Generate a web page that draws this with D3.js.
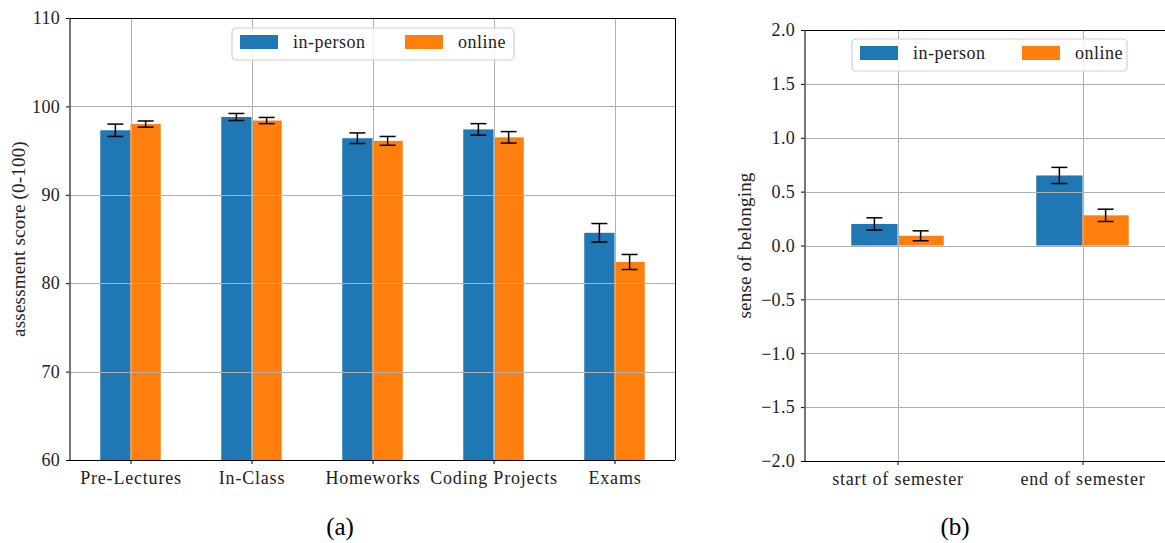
<!DOCTYPE html>
<html>
<head>
<meta charset="utf-8">
<script src="https://cdn.jsdelivr.net/npm/d3@7"></script>
<style>
  body { margin: 0; background: #fff; }
  svg text { font-family: "Times New Roman", "Liberation Serif", Times, "DejaVu Serif", serif; fill: #222; }
</style>
</head>
<body>
<svg id="chart" width="1165" height="543"></svg>
<script>
// Panel (a): assessment scores
const categories = ['Pre-Lectures', 'In-Class', 'Homeworks', 'Coding Projects', 'Exams'];
const scoreInPerson = [97.3, 98.8, 96.4, 97.4, 85.7];
const scoreInPersonErr = [0.7, 0.4, 0.6, 0.65, 1.05];
const scoreOnline = [98.0, 98.4, 96.1, 96.5, 82.4];
const scoreOnlineErr = [0.35, 0.35, 0.5, 0.65, 0.85];
const scoreTicks = [60, 70, 80, 90, 100, 110];

// Panel (b): sense of belonging
const periods = ['start of semester', 'end of semester'];
const belongInPerson = [0.20, 0.65];
const belongInPersonErr = [0.057, 0.075];
const belongOnline = [0.09, 0.28];
const belongOnlineErr = [0.046, 0.057];
const belongTicks = [-2.0, -1.5, -1.0, -0.5, 0.0, 0.5, 1.0, 1.5, 2.0];

const seriesNames = ['in-person', 'online'];
const colors = ['#1f77b4', '#ff7f0e'];

const svg = d3.select('#chart');

function drawPanel(opts) {
  const { left, right, top, bottom } = opts;
  const g = svg.append('g');

  const x = d3.scalePoint().domain(opts.cats).range([left, right]).padding(0.5);
  const y = d3.scaleLinear().domain(opts.yDomain).range([bottom, top]);
  const bw = x.step() * 0.25;
  const base = opts.yDomain[0] < 0 ? 0 : opts.yDomain[0];

  // Bars
  const series = [
    { vals: opts.a, errs: opts.aErr, off: -bw, color: colors[0] },
    { vals: opts.b, errs: opts.bErr, off: 0, color: colors[1] }
  ];
  series.forEach(s => {
    g.selectAll(null)
      .data(opts.cats)
      .enter()
      .append('rect')
      .attr('x', d => x(d) + s.off)
      .attr('y', (d, i) => Math.min(y(s.vals[i]), y(base)))
      .attr('width', bw)
      .attr('height', (d, i) => Math.abs(y(base) - y(s.vals[i])))
      .attr('fill', s.color);
  });

  // Grid lines (drawn above bars, like the original)
  g.selectAll(null).data(opts.ticks).enter().append('line')
    .attr('x1', left).attr('x2', right)
    .attr('y1', d => Math.round(y(d)) + 0.5).attr('y2', d => Math.round(y(d)) + 0.5)
    .attr('stroke', '#b0b0b0').attr('stroke-width', 1);
  g.selectAll(null).data(opts.cats).enter().append('line')
    .attr('x1', d => Math.round(x(d)) + 0.5).attr('x2', d => Math.round(x(d)) + 0.5)
    .attr('y1', top).attr('y2', bottom)
    .attr('stroke', '#b0b0b0').attr('stroke-width', 1);

  // Error bars
  series.forEach(s => {
    opts.cats.forEach((c, i) => {
      const cx = x(c) + s.off + bw / 2;
      const y0 = y(s.vals[i] - s.errs[i]);
      const y1 = y(s.vals[i] + s.errs[i]);
      g.append('line').attr('x1', cx).attr('x2', cx).attr('y1', y0).attr('y2', y1)
        .attr('stroke', '#000').attr('stroke-width', 1.5);
      [y0, y1].forEach(yy => {
        g.append('line').attr('x1', cx - 8).attr('x2', cx + 8).attr('y1', yy).attr('y2', yy)
          .attr('stroke', '#000').attr('stroke-width', 1.5);
      });
    });
  });

  // Axes
  const yAxis = g.append('g')
    .attr('transform', `translate(${left},0)`)
    .call(d3.axisLeft(y).tickValues(opts.ticks).tickSize(4).tickPadding(6)
      .tickFormat(opts.fmt));
  yAxis.attr('font-family', null);
  yAxis.select('.domain').remove();
  yAxis.selectAll('text').style('font-size', '18px').style('letter-spacing', '0.3px').attr('fill', '#222');

  const xAxis = g.append('g')
    .attr('transform', `translate(0,${bottom})`)
    .call(d3.axisBottom(x).tickSize(4).tickPadding(7));
  xAxis.attr('font-family', null);
  xAxis.select('.domain').remove();
  xAxis.selectAll('text').style('font-size', '18px').style('letter-spacing', '0.8px').attr('fill', '#222');

  // Spines
  g.append('line').attr('x1', left).attr('x2', left).attr('y1', top).attr('y2', bottom)
    .attr('stroke', '#555').attr('stroke-width', 1.6);
  g.append('line').attr('x1', left).attr('x2', right).attr('y1', top + 0.5).attr('y2', top + 0.5)
    .attr('stroke', '#000').attr('stroke-width', 1);
  g.append('line').attr('x1', left).attr('x2', right).attr('y1', bottom + 0.5).attr('y2', bottom + 0.5)
    .attr('stroke', '#000').attr('stroke-width', 1);
  g.append('line').attr('x1', right + 0.5).attr('x2', right + 0.5).attr('y1', top).attr('y2', bottom)
    .attr('stroke', '#000').attr('stroke-width', 1);

  // Y label
  g.append('text')
    .attr('transform', `translate(${opts.ylabelX},${(top + bottom) / 2}) rotate(-90)`)
    .attr('text-anchor', 'middle')
    .style('font-size', '19px')
    .style('letter-spacing', '0.2px')
    .text(opts.ylabel);

  // Legend
  const lg = g.append('g').attr('transform', `translate(${opts.legX},${opts.legY})`);
  lg.append('rect').attr('width', opts.legW).attr('height', 32).attr('rx', 4)
    .attr('fill', 'rgba(255,255,255,0.85)').attr('stroke', '#d0d0d0').attr('stroke-width', 1.2);
  seriesNames.forEach((name, i) => {
    const ox = 8 + i * opts.legGap;
    lg.append('rect').attr('x', ox).attr('y', 7).attr('width', 38).attr('height', 14)
      .attr('fill', colors[i]);
    lg.append('text').attr('x', ox + 53).attr('y', 20).style('font-size', '18px')
      .style('letter-spacing', '0.5px').text(name);
  });

  // Caption
  svg.append('text').attr('x', opts.capX).attr('y', 535).attr('text-anchor', 'middle')
    .style('font-size', '25px').style('fill', '#000').text(opts.caption);
}

drawPanel({
  cats: categories, a: scoreInPerson, aErr: scoreInPersonErr, b: scoreOnline, bErr: scoreOnlineErr,
  yDomain: [60, 110], ticks: scoreTicks, fmt: d3.format('d'),
  left: 70, right: 675, top: 18, bottom: 460,
  ylabel: 'assessment score (0-100)', ylabelX: 25,
  legX: 232, legY: 28, legW: 282, legGap: 165,
  caption: '(a)', capX: 340
});

drawPanel({
  cats: periods, a: belongInPerson, aErr: belongInPersonErr, b: belongOnline, bErr: belongOnlineErr,
  yDomain: [-2, 2], ticks: belongTicks, fmt: d => d3.format('.1f')(d).replace('-', '\u2212'),
  left: 805, right: 1175, top: 30, bottom: 461,
  ylabel: 'sense of belonging', ylabelX: 751,
  legX: 852, legY: 39, legW: 275, legGap: 162,
  caption: '(b)', capX: 955
});
</script>
</body>
</html>
